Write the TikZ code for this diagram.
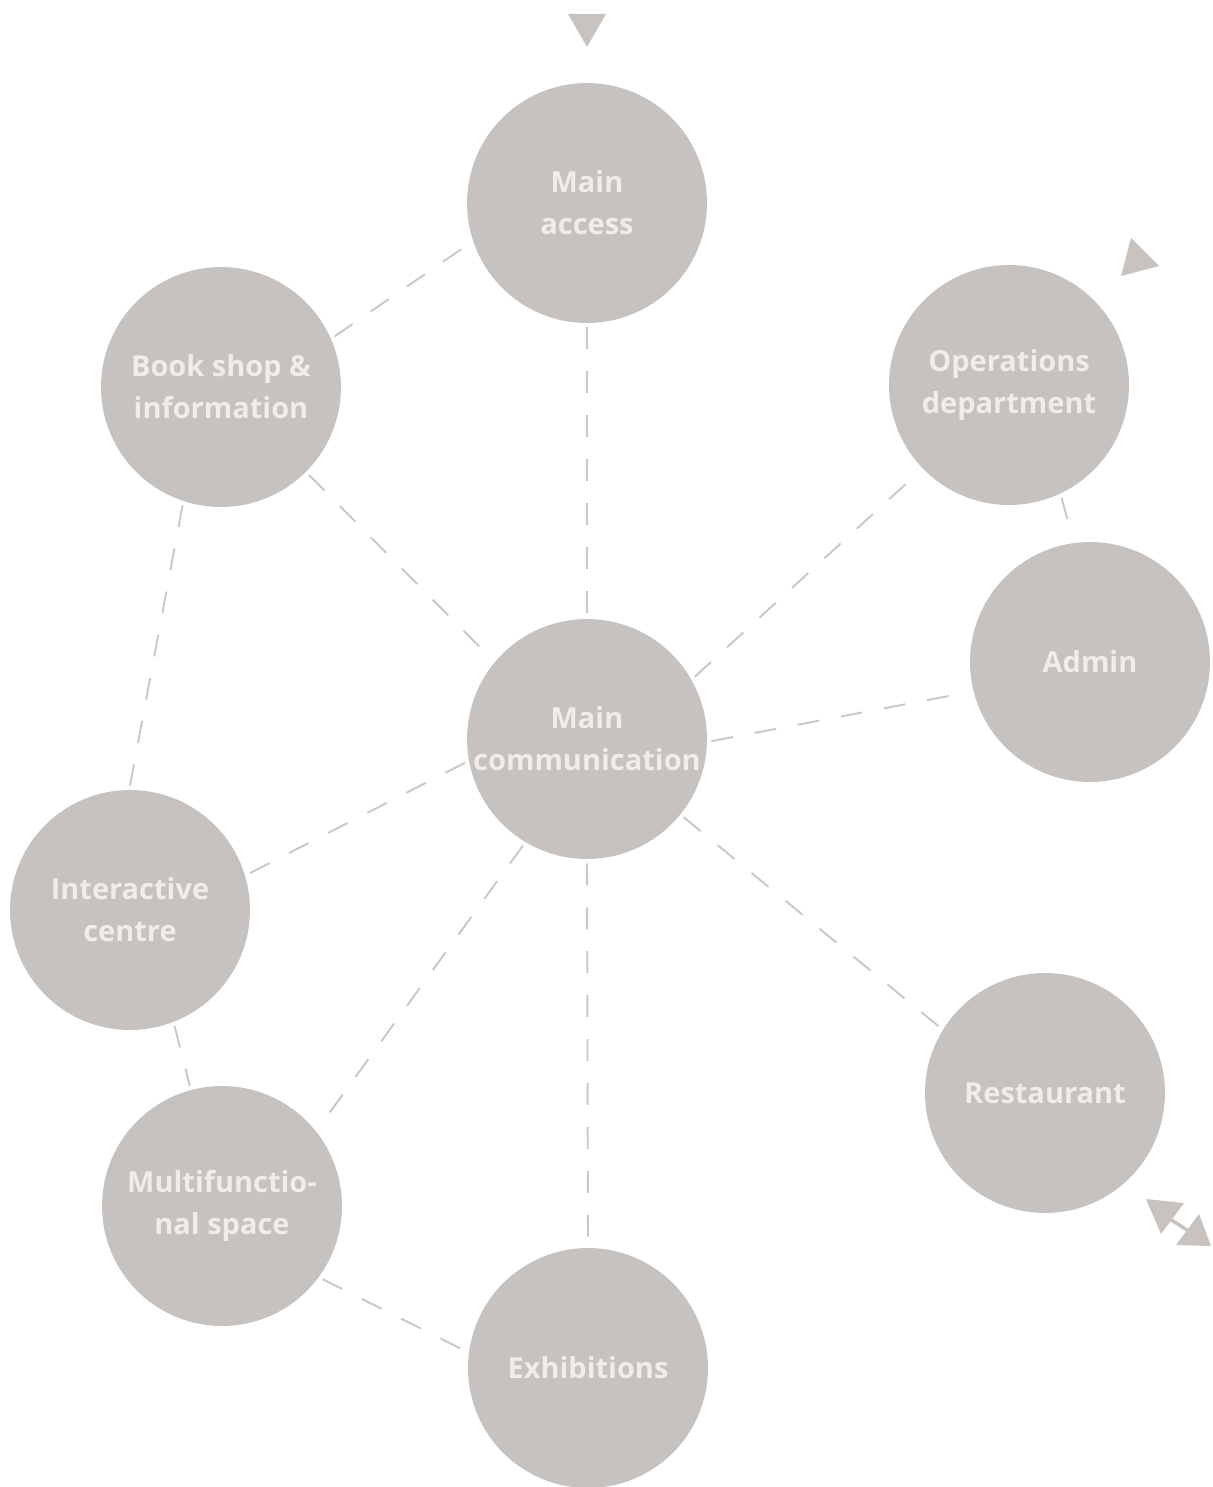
\documentclass[tikz,border=0pt]{standalone}
\usepackage{fontspec}
\setmainfont{Open Sans}
\definecolor{bubble}{HTML}{C6C2C0}
\definecolor{linkgray}{HTML}{CCC7C3}
\definecolor{tipgray}{HTML}{C9C3BF}
\definecolor{labelwhite}{HTML}{EFECEA}

\begin{document}
\begin{tikzpicture}[x=0.02cm, y=-0.02cm,
  room/.style={circle, fill=bubble, minimum size=4.8cm, inner sep=0pt, outer sep=2.5pt,
    text=labelwhite, font=\fontsize{16.5}{24}\selectfont\bfseries, align=center},
  link/.style={draw=linkgray, line width=1.1pt, dash pattern=on 12.5pt off 12.5pt}]
  \useasboundingbox (0,0) rectangle (1213,1487);
  \node[room] (access) at (587,203) {Main\\access};
  \node[room] (shop) at (221,387) {Book shop \&\\information};
  \node[room] (ops) at (1009,385) {Operations\\department};
  \node[room] (admin) at (1090,662) {Admin};
  \node[room] (comm) at (587,739) {Main\\communication};
  \node[room] (inter) at (130,910) {Interactive\\centre};
  \node[room] (rest) at (1045,1093) {Restaurant};
  \node[room] (multi) at (222,1206) {Multifunctio-\\nal space};
  \node[room] (exhib) at (588,1368) {Exhibitions};
  % dashed links, border to border
  \foreach \a/\b in {access.270/comm.90, shop.24/access.199, shop.315/comm.140,
    shop.252/inter.90, comm.30/ops.224, ops.295/admin.98, comm.359/admin.194,
    comm.191/inter.17, comm.321/rest.148, comm.239/multi.39, comm.270/exhib.90,
    inter.291/multi.105, multi.324/exhib.172}
    \path[link] (\a) -- (\b);
  % entry markers
  \coordinate (t1) at (568,14); \coordinate (t2) at (606,14); \coordinate (t3) at (587,47);
  \fill[tipgray] (t1) -- (t2) -- (t3) -- cycle;
  \coordinate (o1) at (1131,238); \coordinate (o2) at (1159,266); \coordinate (o3) at (1121,276);
  \fill[tipgray] (o1) -- (o2) -- (o3) -- cycle;
  \coordinate (r1) at (1146,1199); \coordinate (r2) at (1184,1203); \coordinate (r3) at (1161,1234);
  \fill[tipgray] (r1) -- (r2) -- (r3) -- cycle;
  \coordinate (s1) at (1199,1214); \coordinate (s2) at (1211,1246); \coordinate (s3) at (1176,1245);
  \fill[tipgray] (s1) -- (s2) -- (s3) -- cycle;
  \coordinate (ra) at (1170,1219); \coordinate (rb) at (1190,1232);
  \draw[tipgray, line width=2pt] (ra) -- (rb);
\end{tikzpicture}
\end{document}
